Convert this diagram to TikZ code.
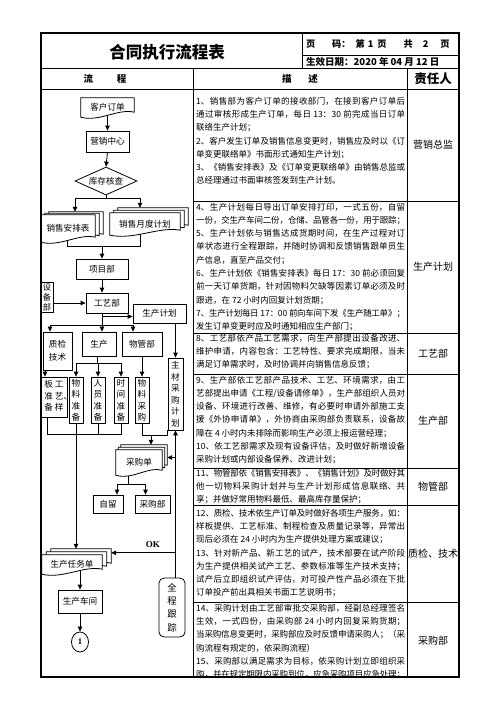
\documentclass[tikz,border=0pt]{standalone}
\usepackage{fontspec}
\setmainfont{Noto Sans CJK SC}
\newfontfamily\timesfont{Liberation Serif}
\usetikzlibrary{positioning, arrows.meta, calc, shapes.geometric}
\pgfdeclarelayer{bg}
\pgfdeclarelayer{mid}
\pgfsetlayers{bg,mid,main}
\XeTeXlinebreaklocale "zh"
\XeTeXlinebreakskip=0pt plus 1pt minus 0.6pt

\newcommand\flowfont{\fontsize{8.6}{11.5}\selectfont}
\newcommand\descfont{\fontsize{8.5}{13.3}\selectfont}
\newcommand\respfont{\fontsize{10}{12}\selectfont}

% document outline with wavy bottom, #2 #3 = offset of a stacked sheet
\newcommand\docpath[3]{($(#1.north west)+(#2,#3)$) -- ($(#1.north east)+(#2,#3)$)
  -- ($(#1.south east)+(#2,#3)+(0,-5)$)
  .. controls ($(#1.south east)!0.3!(#1.south west)+(#2,#3)+(0,-9)$)
  and ($(#1.south west)!0.35!(#1.south east)+(#2,#3)+(0,5)$) .. ($(#1.south west)+(#2,#3)$) -- cycle}

\begin{document}
\begin{tikzpicture}[x=1pt, y=-1pt, font=\flowfont,
  box/.style={draw, line width=0.8pt, fill=white, inner sep=1pt},
  vbox/.style={box, align=center, minimum width=14pt, minimum height=46pt},
  docnode/.style={inner sep=1pt},
  docline/.style={draw, line width=0.8pt, fill=white},
  conn/.style={line width=0.8pt},
  arr/.style={conn, -{Triangle[length=5pt, width=4.5pt]}},
  desc/.style={anchor=north west, inner sep=0pt, text width=209pt, align=justify,
    font=\descfont, execute at begin node={\parindent=0pt}},
  resp/.style={font=\respfont},
  grid/.style={line width=0.8pt},
  frame/.style={line width=1.4pt}]

\useasboundingbox (0,0) rectangle (496,702);

% table
\draw[frame] (41,33) rectangle (459,677);
\draw[grid] (41,68) -- (459,68);
\draw[grid] (41,89) -- (459,89);
\draw[grid] (302,33) -- (302,68);
\draw[grid] (302,55) -- (459,55);
\draw[grid] (193,68) -- (193,677);
\draw[grid] (407,68) -- (407,677);
\foreach \y in {201,333,374,468,505,602} \draw[grid] (193,\y) -- (459,\y);

\node[font=\bfseries\fontsize{16.5}{18}\selectfont] (bt) at (167,52) {合同执行流程表};
\node[anchor=west, inner sep=0pt, font=\bfseries\fontsize{9.2}{11}\selectfont] (ym) at (306,44)
  {页\hspace{16.8pt}码：\hspace{5pt}第\hspace{3pt}1\hspace{4pt}页\hspace{17pt}共\hspace{10pt}2\hspace{12pt}页};
\node[anchor=west, inner sep=0pt, font=\bfseries\fontsize{9.5}{11}\selectfont] (rq) at (306,62)
  {生效日期：2020 年 04 月 12 日};
\node[font=\bfseries\fontsize{9.5}{11}\selectfont] (lc) at (105,79) {流\hspace{24pt}程};
\node[font=\bfseries\fontsize{9.5}{11}\selectfont] (ms) at (300,79) {描\hspace{17pt}述};
\node[font=\bfseries\fontsize{12.5}{14}\selectfont] (zrr) at (433,79) {责任人};

% flow
\node[docnode, minimum width=53pt, minimum height=19pt] (khdd) at (107.5,107.5) {客户订单};
\node[box, minimum width=43pt, minimum height=21pt] (yxzx) at (107.5,141.5) {营销中心};
\node[draw, diamond, line width=0.8pt, fill=white, inner sep=0pt, aspect=2.2,
  minimum width=62pt, minimum height=28pt] (kchc) at (106,181) {库存核查};
\node[docnode, minimum width=54pt, minimum height=27pt] (xsapb) at (68,228.5) {销售安排表};
\node[docnode, minimum width=70pt, minimum height=22pt] (xsydjh) at (145,224) {销售月度计划};
\node[box, minimum width=52pt, minimum height=20pt] (xmb) at (102,269) {项目部};
\node[box, minimum width=42pt, minimum height=20pt] (gyb) at (107,303) {工艺部};
\node[box, align=center, minimum width=12pt, minimum height=30pt,
  font=\fontsize{8.2}{10}\selectfont] (sbb) at (47,297) {设\\备\\部};
\node[box, minimum width=53pt, minimum height=19pt] (scjh) at (159.5,313.5) {生产计划};
\node[box, align=center, minimum width=29pt, minimum height=38pt,
  font=\fontsize{8.6}{13}\selectfont] (zjjs) at (57.5,351) {质检\\技术};
\node[box, minimum width=34pt, minimum height=24pt] (sc) at (99,344) {生产};
\node[box, minimum width=40pt, minimum height=24pt] (wgb) at (142,344) {物管部};
\node[box, inner sep=0pt, minimum width=26pt, minimum height=40pt] (gyyb) at (54,397)
  {\begin{tabular}{@{}c@{\hspace{2pt}}c@{}}板&工\\准&艺\rlap{、}\\备&样\end{tabular}};
\node[vbox] (wlzb) at (76,400) {物\\料\\准\\备};
\node[vbox] (ryzb) at (98,400) {人\\员\\准\\备};
\node[vbox] (sjzb) at (121,400) {时\\间\\准\\备};
\node[vbox] (wlcg) at (142,400) {物\\料\\采\\购};
\node[vbox, minimum width=15pt, minimum height=72pt] (zccg) at (175.5,394) {主\\材\\采\\购\\计\\划};
\node[docnode, minimum width=46pt, minimum height=25pt] (cgd) at (139,462.5) {采购单};
\node[box, minimum width=30pt, minimum height=18pt] (zl) at (108,504) {自留};
\node[box, minimum width=35pt, minimum height=18pt] (cgb) at (152.5,504) {采购部};
\node[docnode, minimum width=60pt, minimum height=19pt] (scrwd) at (72,564.5) {生产任务单};
\node[box, minimum width=44pt, minimum height=23pt] (sccj) at (80,601.5) {生产车间};
\node[draw, ellipse, line width=0.8pt, fill=white, inner sep=0pt,
  minimum width=17pt, minimum height=20pt] (yuan) at (80,642) {\timesfont\bfseries 1};
\node[box, rounded corners=5pt, align=center, minimum width=26pt, minimum height=59pt,
  font=\fontsize{9.4}{13.3}\selectfont] (qcgz) at (172,607.5) {全\\程\\跟\\踪};

\begin{pgfonlayer}{mid}
  \draw[docline] \docpath{khdd}{0}{0};
  \draw[docline] \docpath{xsapb}{8}{-3};
  \draw[docline] \docpath{xsapb}{4}{-1.5};
  \draw[docline] \docpath{xsapb}{0}{0};
  \draw[docline] \docpath{xsydjh}{8}{-5};
  \draw[docline] \docpath{xsydjh}{4}{-2.5};
  \draw[docline] \docpath{xsydjh}{0}{0};
  \draw[docline] \docpath{cgd}{5}{-5};
  \draw[docline] \docpath{cgd}{2.5}{-2.5};
  \draw[docline] \docpath{cgd}{0}{0};
  \draw[docline] \docpath{scrwd}{9}{-6};
  \draw[docline] \docpath{scrwd}{4.5}{-3};
  \draw[docline] \docpath{scrwd}{0}{0};
\end{pgfonlayer}

\begin{pgfonlayer}{bg}
  \draw[arr] ($(khdd.south)+(0,-4)$) -- (yxzx.north);
  \draw[arr] (yxzx.south) -- (kchc.north);
  \draw[conn] (kchc.south) -- ++(0,3) coordinate (fk1);
  \draw[arr] (fk1) -| ($(xsapb.north)+(7,-3)$);
  \draw[arr] (fk1) -| ($(xsydjh.north)+(-5,-5)$);
  \draw[conn] ($(xsapb.south)+(-1,-4)$) -- ++(0,8) coordinate (hb1) -| ($(xsydjh.south)+(-5,-4)$);
  \draw[arr] (xmb.north |- hb1) -- (xmb.north);
  \draw[arr] (xmb.south) -- (xmb.south |- gyb.north);
  \draw[arr] (sbb.east |- gyb.west) -- (gyb.west);
  \draw[conn] (xmb.south |- gyb.south) -- ++(0,12) coordinate (fk2);
  \draw[arr] ($(xmb.south |- scjh.west)+(0,3)$) -- ($(scjh.west)+(0,3)$);
  \draw[arr] (fk2) -| ($(zjjs.north)+(-7.5,0)$);
  \draw[arr] (fk2) -- (fk2 |- sc.north);
  \draw[arr] (fk2) -| ($(wgb.north)+(-9,0)$);
  \draw[arr] (zccg.north |- scjh.south) -- (zccg.north);
  \draw[arr] ($(zjjs.south)+(-12.5,0)$) -- ($(gyyb.north)+(-9,0)$);
  \draw[conn] ($(sc.south)+(-2,0)$) -- ++(0,7) coordinate (fk3);
  \draw[arr] (fk3) -| (wlzb.north);
  \draw[arr] (fk3) -| (sjzb.north);
  \draw[arr] (ryzb.north |- fk3) -- (ryzb.north);
  \draw[arr] (wgb.south) -- (wlcg.north);
  \coordinate (hj1) at (0,434);
  \draw[conn] ($(gyyb.south)+(-7,0)$) |- (sjzb.south |- hj1) -- (sjzb.south);
  \draw[conn] (ryzb.south) -- (ryzb.south |- hj1);
  \draw[arr] (wlzb.south) -- ($(wlzb.south |- scrwd.north)+(0,-6)$);
  \draw[conn] (wlcg.south) |- ($(zccg.south west)+(0,5)$) -- (zccg.south west);
  \draw[arr] ($(cgd.north |- zccg.south)+(12,5)$) -- ($(cgd.north)+(12,-5)$);
  \draw[arr] (zccg.south |- qcgz.north) -- (zccg.south);
  \draw[arr] (zccg.south |- cgd.east) ++(0,-5) -- ($(cgd.east)+(5,-5)$);
  \draw[conn] ($(cgd.south)+(-11,-2)$) -- ++(0,11) coordinate (fk4);
  \draw[arr] (fk4) -| ($(zl.north)+(9,0)$);
  \draw[arr] (fk4) -| ($(cgb.north)+(-7,0)$);
  \draw[arr] (zccg.south |- scrwd.north east) ++(0,-2) -- ($(scrwd.north east)+(9,-2)$)
    node[pos=0.35, above=1pt, font=\timesfont\bfseries\fontsize{9}{10}\selectfont] (ok) {OK};
  \draw[arr] ($(sccj.north |- scrwd.south)+(0,-5)$) -- (sccj.north);
  \draw[arr] (sccj.south) -- (yuan.north);
\end{pgfonlayer}

% description
\node[desc] (d1) at (196,96.7) {1、销售部为客户订单的接收部门，在接到客户订单后\linebreak
通过审核形成生产订单，每日 13：30 前完成当日订单\linebreak
联络生产计划；\par
2、客户发生订单及销售信息变更时，销售应及时以《订\linebreak
单变更联络单》书面形式通知生产计划；\par
3、《销售安排表》及《订单变更联络单》由销售总监或\linebreak
总经理通过书面审核签发到生产计划。};
\node[desc] (d2) at (196,202.7) {4、生产计划每日导出订单安排打印，一式五份，自留\linebreak
一份，交生产车间二份，仓储、品管各一份，用于跟踪；\par
5、生产计划依与销售达成货期时间，在生产过程对订\linebreak
单状态进行全程跟踪，并随时协调和反馈销售跟单员生\linebreak
产信息，直至产品交付；\par
6、生产计划依《销售安排表》每日 17：30 前必须回复\linebreak
前一天订单货期，针对因物料欠缺等因素订单必须及时\linebreak
跟进，在 72 小时内回复计划货期；\par
7、生产计划每日 17：00 前向车间下发《生产随工单》；\linebreak
发生订单变更时应及时通知相应生产部门；};
\node[desc] (d3) at (196,333.8) {8、工艺部依产品工艺需求，向生产部提出设备改进、\linebreak
维护申请，内容包含：工艺特性、要求完成期限，当未\linebreak
满足订单需求时，及时协调并向销售信息反馈；};
\node[desc] (d4) at (196,375.7) {9、生产部依工艺部产品技术、工艺、环境需求，由工\linebreak
艺部提出申请《工程/设备请修单》，生产部组织人员对\linebreak
设备、环境进行改善、维修，有必要时申请外部施工支\linebreak
援《外协申请单》，外协商由采购部负责联系，设备故\linebreak
障在 4 小时内未排除而影响生产必须上报运营经理；\par
10、依工艺部需求及现有设备评估，及时做好新增设备\linebreak
采购计划或内部设备保养、改进计划；};
\node[desc] (d5) at (196,468.7) {11、物管部依《销售安排表》、《销售计划》及时做好其\linebreak
他一切物料采购计划并与生产计划形成信息联络、共\linebreak
享；并做好常用物料最低、最高库存量保护；};
\node[desc] (d6) at (196,508.7) {12、质检、技术依生产订单及时做好各项生产服务，如：\linebreak
样板提供、工艺标准、制程检查及质量记录等，异常出\linebreak
现后必须在 24 小时内为生产提供处理方案或建议；\par
13、针对新产品、新工艺的试产，技术部要在试产阶段\linebreak
为生产提供相关试产工艺、参数标准等生产技术支持；\linebreak
试产后立即组织试产评估，对可投产性产品必须在下批\linebreak
订单投产前出具相关书面工艺说明书；};
\node[desc] (d7) at (196,603.7) {14、采购计划由工艺部审批交采购部，经副总经理签名\linebreak
生效，一式四份，由采购部 24 小时内回复采购货期；\linebreak
当采购信息变更时，采购部应及时反馈申请采购人；（采\linebreak
购流程有规定的，依采购流程）\par
15、采购部以满足需求为目标，依采购计划立即组织采\linebreak
购，并在规定期限内采购到位，应急采购项目应急处理；};

% responsibility
\node[resp] (r1) at (433,144.5) {营销总监};
\node[resp] (r2) at (433,267) {生产计划};
\node[resp] (r3) at (433,353.5) {工艺部};
\node[resp] (r4) at (433,421) {生产部};
\node[resp] (r5) at (433,486.5) {物管部};
\node[resp] (r6) at (433,553.5) {质检、技术};
\node[resp] (r7) at (433,641) {采购部};
\end{tikzpicture}
\end{document}
